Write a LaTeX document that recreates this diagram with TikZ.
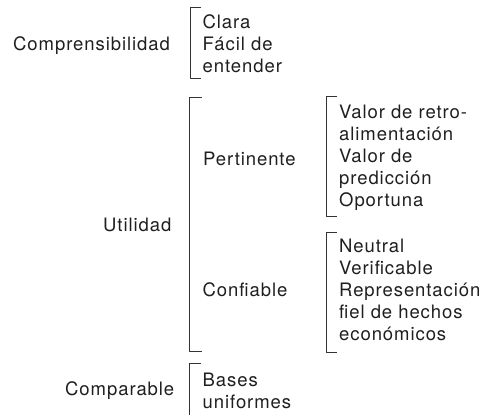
\documentclass[tikz,border=0pt]{standalone}
\usepackage{fontspec}
\setmainfont{TeX Gyre Heros}[LetterSpace=5]
\begin{document}
\begin{tikzpicture}[x=1pt,y=-1pt,line join=round,font=\fontsize{18.5}{22}\selectfont,
	txt/.style={anchor=base west,inner sep=0pt,align=left,text=black!88},
	corchete/.style={draw=black!80,line width=0.9pt}]
	\useasboundingbox (0,0) rectangle (488,415);
	% primer nivel
	\node[txt] (compr) at (13,50.5) {Comprensibilidad};
	\node[txt] (util) at (103,231) {Utilidad};
	\node[txt] (compa) at (65,395) {Comparable};
	% segundo nivel (base = ultima linea)
	\node[txt] (clara) at (202.5,72) {Clara\\Fácil de\\entender};
	\node[txt] (pert) at (203,165) {Pertinente};
	\node[txt] (conf) at (202.5,296.7) {Confiable};
	\node[txt] (bases) at (202.5,408.3) {Bases\\uniformes};
	% tercer nivel
	\node[txt] (valor) at (339,206.5) {Valor de retro-\\alimentación\\Valor de\\predicción\\Oportuna};
	\node[txt] (neutral) at (339,340) {Neutral\\Verificable\\Representación\\fiel de hechos\\económicos};
	% corchetes
	\draw[corchete] (201,7.3) -| (190,78.7) -- ++(11,0);
	\draw[corchete] (201.5,97) -| (189.5,351.7) -- ++(12,0);
	\draw[corchete] (201,363.3) -| (189.5,416);
	\draw[corchete] (337,96.7) -| (326.5,216) -- ++(10.5,0);
	\draw[corchete] (337,232.7) -| (326,352.3) -- ++(11,0);
\end{tikzpicture}
\end{document}
